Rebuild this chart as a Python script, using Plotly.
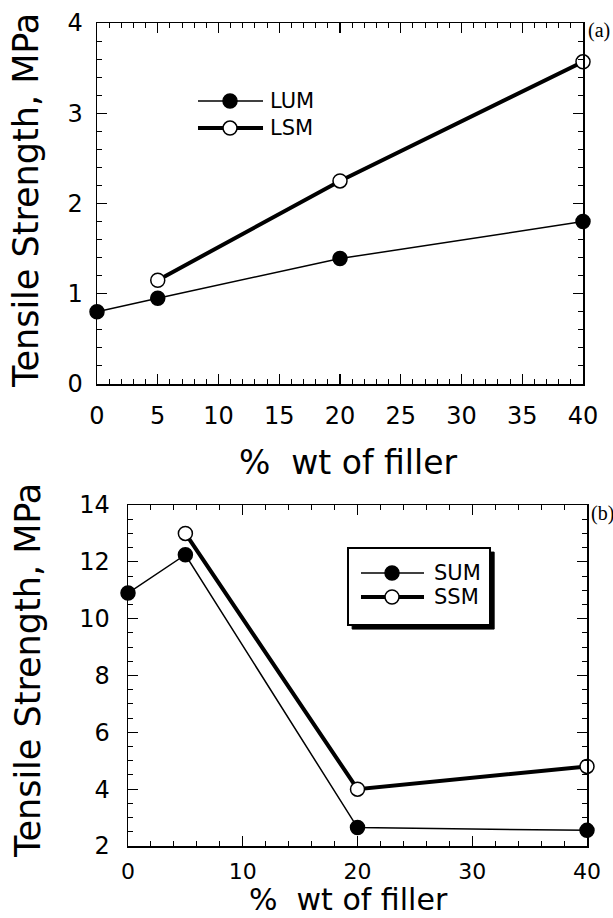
import plotly.graph_objects as go

# ---- data ----
filler_a = [0, 5, 20, 40]
lum = [0.8, 0.95, 1.39, 1.8]
filler_a_lsm = [5, 20, 40]
lsm = [1.15, 2.25, 3.57]

filler_b = [0, 5, 20, 40]
sum_vals = [10.9, 12.25, 2.65, 2.55]
filler_b_ssm = [5, 20, 40]
ssm = [13.0, 4.0, 4.8]

names_a = ["LUM", "LSM"]
names_b = ["SUM", "SSM"]
xticks_a = [0, 5, 10, 15, 20, 25, 30, 35, 40]
yticks_a = [0, 1, 2, 3, 4]
xticks_b = [0, 10, 20, 30, 40]
yticks_b = [2, 4, 6, 8, 10, 12, 14]

FONT = "DejaVu Sans"
fig = go.Figure()

def add_series(x, y, xa, ya, filled, width, name):
    fig.add_trace(go.Scatter(
        x=x, y=y, xaxis=xa, yaxis=ya, mode="lines+markers", name=name,
        showlegend=False, cliponaxis=False, hoverinfo="skip",
        line=dict(color="black", width=width),
        marker=dict(size=14, color="black" if filled else "white",
                    line=dict(color="black", width=1.5)),
    ))

add_series(filler_a, lum, "x", "y", True, 1.5, names_a[0])
add_series(filler_a_lsm, lsm, "x", "y", False, 4, names_a[1])
add_series(filler_b, sum_vals, "x2", "y2", True, 1.5, names_b[0])
add_series(filler_b_ssm, ssm, "x2", "y2", False, 4, names_b[1])

W, H = 613, 918
def px_x(p): return p / W
def px_y(p): return 1 - p / H

axis_common = dict(showline=True, linecolor="black", linewidth=1.5, mirror="allticks",
                   ticks="inside", ticklen=10, tickwidth=1.2, tickcolor="black",
                   showgrid=False, zeroline=False, automargin=False)
tf = dict(family=FONT, size=24, color="black")

fig.update_layout(
    template="none",
    width=W, height=H, margin=dict(l=0, r=0, t=0, b=0, autoexpand=False),
    paper_bgcolor="white", plot_bgcolor="white", showlegend=False,
    xaxis=dict(domain=[px_x(97), px_x(583)], range=[0, 40], tickvals=xticks_a,
               anchor="y", ticklabelstandoff=10, tickfont=tf,
               minor=dict(dtick=1, ticks="inside", ticklen=5, tickcolor="black", tickwidth=1),
               **axis_common),
    yaxis=dict(domain=[px_y(384), px_y(23)], range=[0, 4], tickvals=yticks_a,
               anchor="x", ticklabelstandoff=8, tickfont=tf,
               minor=dict(dtick=0.2, ticks="inside", ticklen=5, tickcolor="black", tickwidth=1),
               **axis_common),
    xaxis2=dict(domain=[px_x(128), px_x(587)], range=[0, 40], tickvals=xticks_b,
                anchor="y2", ticklabelstandoff=5,
                tickfont=dict(family=FONT, size=22, color="black"),
                minor=dict(dtick=2, ticks="inside", ticklen=5, tickcolor="black", tickwidth=1),
                **axis_common),
    yaxis2=dict(domain=[px_y(846), px_y(505)], range=[2, 14], tickvals=yticks_b,
                anchor="x2", ticklabelstandoff=12, tickfont=tf,
                minor=dict(dtick=0.5, ticks="inside", ticklen=5, tickcolor="black", tickwidth=1),
                **axis_common),
)

title_font = dict(family=FONT, size=35, color="black")
xt_font = dict(family=FONT, size=33, color="black")
xt_font_b = dict(family=FONT, size=30, color="black")
ann = [
    dict(text="Tensile Strength, MPa", x=px_x(26), y=px_y(201), textangle=-90, font=title_font,
         yanchor="middle"),
    dict(text="Tensile Strength, MPa", x=px_x(28), y=px_y(671), textangle=-90, font=title_font,
         yanchor="middle"),
    dict(text="%  wt of filler", x=px_x(348), y=px_y(463), font=xt_font, yanchor="middle"),
    dict(text="%  wt of filler", x=px_x(348), y=px_y(918), font=xt_font_b, yanchor="bottom"),
]
for a in ann:
    fig.add_annotation(xref="paper", yref="paper", showarrow=False,
                       xanchor="center", borderpad=0, **a)

fig.add_annotation(text="(a)", xref="paper", yref="paper", x=px_x(586), y=px_y(31),
                   xanchor="left", yanchor="middle", showarrow=False,
                   font=dict(family="Liberation Serif", size=20, color="black"))
fig.add_annotation(text="(b)", xref="paper", yref="paper", x=px_x(589), y=px_y(513),
                   xanchor="left", yanchor="middle", showarrow=False,
                   font=dict(family="Liberation Serif", size=20, color="black"))

# ---- manual legends (line sample + marker + label) ----
def legend_item(xd, yd, x0, x1, xm, xt, yv, filled, width, label):
    fig.add_shape(type="line", xref=xd, yref=yd, x0=x0, x1=x1, y0=yv, y1=yv,
                  line=dict(color="black", width=width), layer="above")
    fig.add_shape(type="circle", xref=xd, yref=yd, xsizemode="pixel", ysizemode="pixel",
                  xanchor=xm, yanchor=yv, x0=-7, x1=7, y0=-7, y1=7,
                  fillcolor="black" if filled else "white",
                  line=dict(color="black", width=1.5), layer="above")
    fig.add_annotation(text=label, xref=xd, yref=yd, x=xt, y=yv, xanchor="left",
                       yanchor="middle", showarrow=False,
                       font=dict(family=FONT, size=21, color="black"))

legend_item("x domain", "y domain", 0.2078, 0.3416, 0.2737, 0.352, 0.784, True, 1.5, names_a[0])
legend_item("x domain", "y domain", 0.2078, 0.3416, 0.2737, 0.352, 0.709, False, 4, names_a[1])

# legend box with drop shadow for panel b
fig.add_shape(type="rect", xref="x2 domain", yref="y2 domain",
              x0=0.4793 + 0.009, x1=0.7887 + 0.009, y0=0.6481 - 0.012, y1=0.8739 - 0.012,
              fillcolor="black", line=dict(color="black", width=1), layer="above")
fig.add_shape(type="rect", xref="x2 domain", yref="y2 domain",
              x0=0.4793, x1=0.7887, y0=0.6481, y1=0.8739,
              fillcolor="white", line=dict(color="black", width=2), layer="above")
legend_item("x2 domain", "y2 domain", 0.5076, 0.6449, 0.5752, 0.6623, 0.8006, True, 1.5, names_b[0])
legend_item("x2 domain", "y2 domain", 0.5076, 0.6449, 0.5752, 0.6623, 0.7302, False, 4, names_b[1])

fig.write_html("out.html", config={"displayModeBar": False, "staticPlot": True},
               post_script="document.body.style.margin='0';document.body.style.padding='0';"
                           "document.body.style.overflow='hidden';")
